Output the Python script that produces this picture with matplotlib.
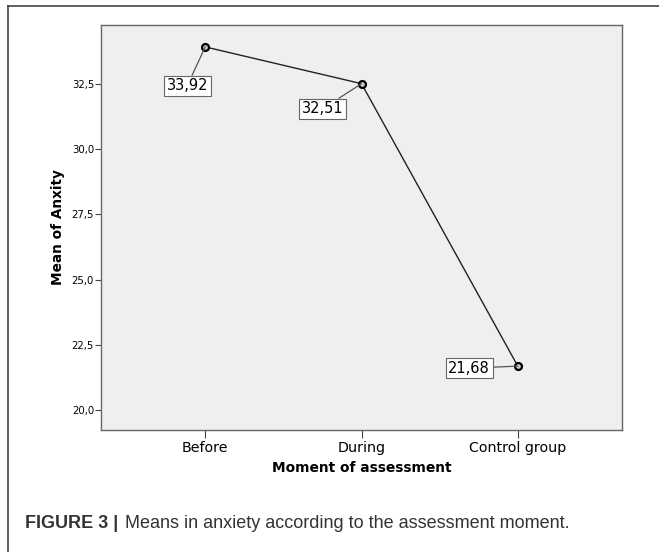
import matplotlib.pyplot as plt
from matplotlib.lines import Line2D

# Means of anxiety by assessment moment
moments = ['Before', 'During', 'Control group']
means = [33.92, 32.51, 21.68]
value_labels = ['33,92', '32,51', '21,68']
yticks = [20.0, 22.5, 25.0, 27.5, 30.0, 32.5]
ytick_labels = ['20,0', '22,5', '25,0', '27,5', '30,0', '32,5']

# label box offsets (points) from each point
offsets = [(-13, -28), (-28, -18), (-35, -1.5)]

fig = plt.figure(figsize=(6.59, 5.52), dpi=100)
ax = fig.add_axes([0.1533, 0.221, 0.7906, 0.7337])
ax.set_facecolor('#efefef')

x = list(range(len(moments)))
ax.plot(x, means, color='#222222', lw=1.0, marker='o', ms=5,
        mfc='#cccccc', mec='black', mew=1.6, zorder=3)

for xi, yi, lab, off in zip(x, means, value_labels, offsets):
    ax.annotate(lab, xy=(xi, yi), xytext=off, textcoords='offset points',
                ha='center', va='center', fontsize=10.5, family='DejaVu Sans',
                bbox=dict(boxstyle='square,pad=0.18', fc='white', ec='#666666', lw=0.8),
                arrowprops=dict(arrowstyle='-', color='#555555', lw=0.9,
                                shrinkA=0, shrinkB=0), zorder=4)

ax.set_xlim(-0.667, 2.667)
ax.set_ylim(19.23, 34.76)
ax.set_xticks(x)
ax.set_xticklabels(moments, fontsize=10.3)
ax.set_yticks(yticks)
ax.set_yticklabels(ytick_labels, fontsize=7.3)
ax.tick_params(axis='x', length=6, width=0.8, color='#444444', pad=2)
ax.tick_params(axis='y', length=4, width=0.8, color='#444444', pad=1)
for s in ax.spines.values():
    s.set_color('#666666')
    s.set_linewidth(1.0)

ax.set_xlabel('Moment of assessment', fontsize=9.9, fontweight='bold', labelpad=4)
ax.set_ylabel('Mean of Anxity', fontsize=9.8, fontweight='bold', labelpad=5)

# outer frame (left and top edges)
fig.add_artist(Line2D([0.0121, 0.0121], [0.0, 0.989], color='#444444', lw=1.2))
fig.add_artist(Line2D([0.0121, 1.0], [0.989, 0.989], color='#444444', lw=1.2))

# caption
fig.text(0.038, 0.052, 'FIGURE 3 |', fontsize=13, fontweight='bold',
         family='Liberation Sans', color='#333333', va='center')
fig.text(0.189, 0.052, 'Means in anxiety according to the assessment moment.',
         fontsize=13, family='Liberation Sans', color='#333333', va='center')

fig.savefig('out.png', dpi=100)
